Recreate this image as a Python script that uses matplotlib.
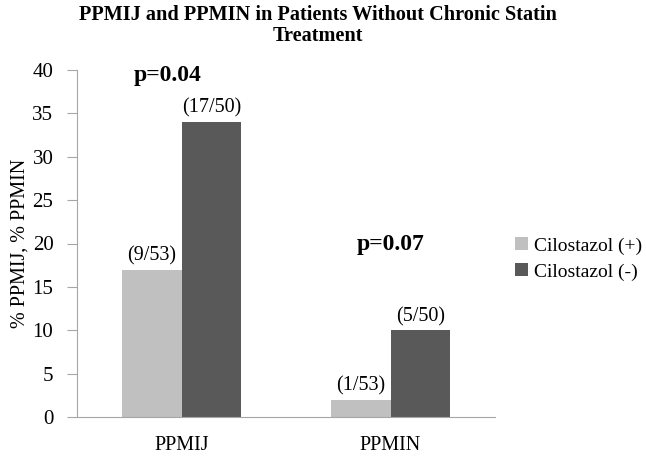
import matplotlib
matplotlib.use("Agg")
import matplotlib.pyplot as plt
import numpy as np

categories = ["PPMIJ", "PPMIN"]
series_names = ["Cilostazol (+)", "Cilostazol (-)"]
cilo_pos = [17, 2]
cilo_neg = [34, 10]
labels_pos = ["(9/53)", "(1/53)"]
labels_neg = ["(17/50)", "(5/50)"]
p_values = ["p=0.04", "p=0.07"]
yticks = [0, 5, 10, 15, 20, 25, 30, 35, 40]

plt.rcParams['font.family'] = ['Liberation Serif', 'DejaVu Serif']

fig = plt.figure(figsize=(6.46, 4.57), dpi=100)
ax = fig.add_axes([77/646, 1-417/457, (495-77)/646, (417-70)/457])

x = np.arange(len(categories))
w = 0.287
c_light = "#C0C0C0"
c_dark = "#595959"
ax.bar(x - w/2, cilo_pos, w, color=c_light, label=series_names[0])
ax.bar(x + w/2, cilo_neg, w, color=c_dark, label=series_names[1])

for xi, v, t in zip(x - w/2, cilo_pos, labels_pos):
    ax.annotate(t, (xi, v), xytext=(0, 3), textcoords="offset points",
                ha="center", va="bottom", fontsize=14.5)
for xi, v, t in zip(x + w/2, cilo_neg, labels_neg):
    ax.annotate(t, (xi, v), xytext=(0, 3), textcoords="offset points",
                ha="center", va="bottom", fontsize=14.5)

ax.text(x[0] - 0.065, 39.4, p_values[0], ha="center", va="center",
        fontsize=17, fontweight="bold")
ax.text(x[1], 19.9, p_values[1], ha="center", va="center",
        fontsize=17, fontweight="bold")

ax.set_xlim(-0.5, 1.5)
ax.set_ylim(0, 40)
ax.set_yticks(yticks)
ax.set_xticks(x)
ax.set_xticklabels(categories, fontsize=14.5)
ax.tick_params(axis="y", labelsize=15, length=7, color="#A6A6A6", pad=10)
ax.tick_params(axis="x", length=0, pad=14)
for s in ["top", "right"]:
    ax.spines[s].set_visible(False)
for s in ["left", "bottom"]:
    ax.spines[s].set_color("#A6A6A6")
ax.set_ylabel("% PPMIJ, % PPMIN", fontsize=14.5, labelpad=2)

fig.text(0.492, 0.99, "PPMIJ and PPMIN in Patients Without Chronic Statin\nTreatment",
         ha="center", va="top", fontsize=14.6, fontweight="bold", linespacing=1.08)

ax.legend(loc="center left", bbox_to_anchor=(1.03, 0.455), frameon=False,
          fontsize=14, handlelength=0.65, handleheight=0.65, handletextpad=0.3,
          labelspacing=0.45, borderaxespad=0)

fig.savefig("out.png", dpi=100)
